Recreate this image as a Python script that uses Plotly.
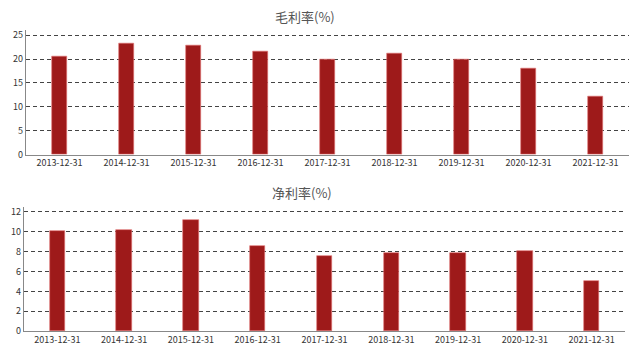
import plotly.graph_objects as go

categories = ["2013-12-31", "2014-12-31", "2015-12-31", "2016-12-31", "2017-12-31",
              "2018-12-31", "2019-12-31", "2020-12-31", "2021-12-31"]
gross_margin = [20.6, 23.3, 22.9, 21.5, 20.0, 21.1, 19.9, 18.1, 12.2]
net_margin = [10.1, 10.2, 11.2, 8.6, 7.6, 7.9, 7.9, 8.1, 5.1]
titles = ["毛利率(%)", "净利率(%)"]

W, H = 641, 360
bar_color = "#9e1a1a"
font_family = "Noto Sans CJK SC, DejaVu Sans, sans-serif"

fig = go.Figure()
fig.add_trace(go.Bar(x=categories, y=gross_margin, xaxis="x", yaxis="y",
                     marker=dict(color=bar_color, line=dict(color="#e07070", width=0.6)),
                     width=0.23, showlegend=False))
fig.add_trace(go.Bar(x=categories, y=net_margin, xaxis="x2", yaxis="y2",
                     marker=dict(color=bar_color, line=dict(color="#e07070", width=0.6)),
                     width=0.23, showlegend=False))

axis_common = dict(showline=True, linecolor="#888", linewidth=1.2, ticks="",
                   tickfont=dict(size=9, color="#333", family=font_family))
yaxis_common = dict(axis_common, showgrid=True, gridcolor="#444", griddash="4px,3px",
                    gridwidth=1, zeroline=False)

# top chart: 0 at y=156px, 25 at y=34px; range extended to 26 so top gridline shows
top_ppu = (156 - 34) / 25
bot_ppu = (336.7 - 214.7) / 12

fig.update_layout(
    width=W, height=H,
    margin=dict(l=0, r=0, t=0, b=0),
    paper_bgcolor="white", plot_bgcolor="white",
    bargap=0.0,
    xaxis=dict(axis_common, type="category", domain=[26 / W, 629 / W], anchor="y",
               showgrid=False),
    yaxis=dict(yaxis_common, domain=[(H - 156) / H, (H - 156 + 26 * top_ppu) / H],
               anchor="x", range=[0, 26], tickvals=[0, 5, 10, 15, 20, 25]),
    xaxis2=dict(axis_common, type="category", domain=[24 / W, 625 / W], anchor="y2",
                showgrid=False),
    yaxis2=dict(yaxis_common, domain=[(H - 336.7) / H, (H - 336.7 + 12.5 * bot_ppu) / H],
                anchor="x2", range=[0, 12.5], tickvals=[0, 2, 4, 6, 8, 10, 12]),
    annotations=[
        dict(text=titles[0], x=305 / W, y=(H - 15) / H, xref="paper", yref="paper",
             xanchor="center", yanchor="middle", showarrow=False,
             font=dict(size=13, color="#555", family=font_family)),
        dict(text=titles[1], x=302 / W, y=(H - 195) / H, xref="paper", yref="paper",
             xanchor="center", yanchor="middle", showarrow=False,
             font=dict(size=13, color="#555", family=font_family)),
    ],
)

fig.write_html("out.html")
